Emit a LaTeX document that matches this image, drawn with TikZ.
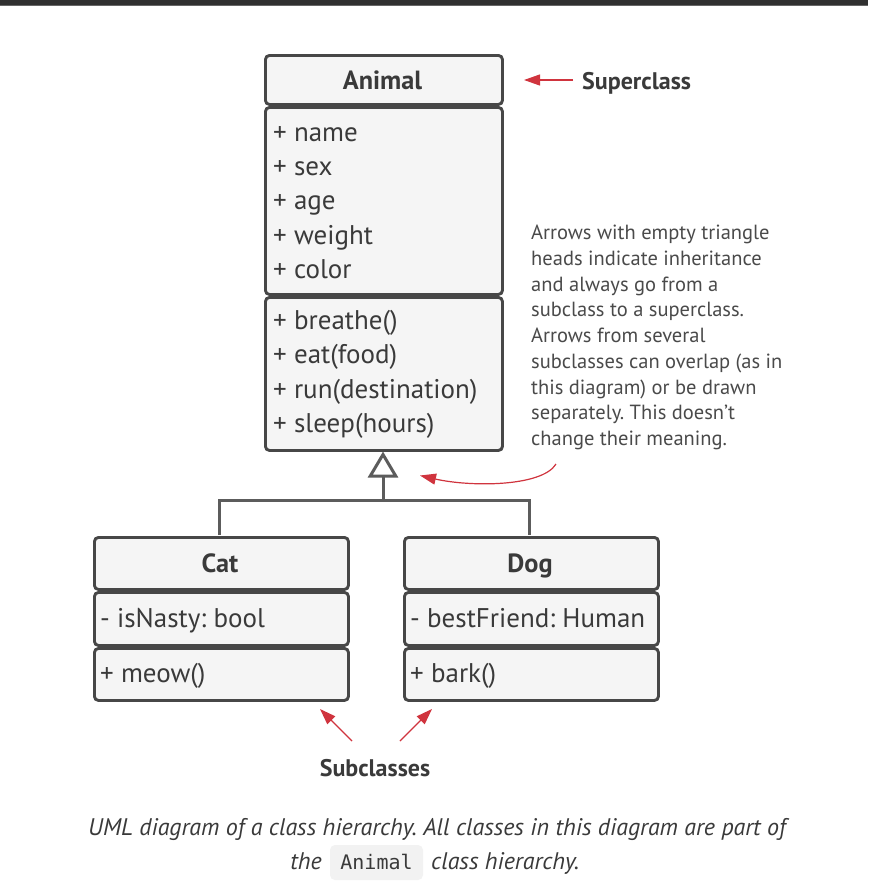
\documentclass[tikz,border=0pt]{standalone}
\usepackage{fontspec}
\setmainfont{PT Sans}
\setmonofont{DejaVu Sans Mono}
\usetikzlibrary{arrows.meta}
\frenchspacing
\definecolor{boxline}{HTML}{474747}
\definecolor{boxfill}{HTML}{F5F5F5}
\definecolor{conn}{HTML}{5C5C5C}
\definecolor{redarrow}{HTML}{D0343E}
\definecolor{txt}{HTML}{3A3A3A}
\definecolor{notetxt}{HTML}{4A4A4A}
\definecolor{topbar}{HTML}{303030}
\tikzset{
  compart/.style={draw=boxline, fill=boxfill, line width=2.9pt, rounded corners=4pt, rectangle, inner sep=0pt, anchor=north west},
  title/.style={font=\fontsize{26.3}{30}\selectfont\bfseries, text=txt, anchor=base},
  member/.style={font=\fontsize{27}{30}\selectfont, text=txt, anchor=base west, inner sep=0pt},
  note/.style={font=\fontsize{20.5}{25.75}\selectfont, text=notetxt, anchor=base west, inner sep=0pt, align=left},
  callout/.style={font=\fontsize{24}{28}\selectfont\bfseries, text=txt, inner sep=0pt},
  redarr/.style={draw=redarrow, line width=1.2pt, -{Triangle[length=16pt,width=11pt]}},
  inherit/.style={draw=conn, line width=3pt},
  caption/.style={font=\fontsize{24}{35}\selectfont\itshape, text=txt, inner sep=0pt, anchor=base},
}
\begin{document}
\begin{tikzpicture}[x=1pt,y=-1pt]
\useasboundingbox (0,0) rectangle (868,889);
\fill[white] (0,0) rectangle (868,889);
\fill[topbar] (0,0) rectangle (868,5);
\fill[black!60] (0,5) rectangle (868,6);

% Animal
\node[compart, minimum width=237pt, minimum height=49pt] (aH) at (264,54) {};
\node[compart, minimum width=237pt, minimum height=187pt] (aA) at (264,106) {};
\node[compart, minimum width=237pt, minimum height=153pt] (aM) at (264,296) {};
\node[title] (aT) at (382.5,89) {Animal};
\node[member] (a1) at (273,141) {+ name};
\node[member] (a2) at (273,175) {+ sex};
\node[member] (a3) at (273,209.5) {+ age};
\node[member] (a4) at (273,244) {+ weight};
\node[member] (a5) at (273,278) {+ color};
\node[member] (a6) at (273,329) {+ breathe()};
\node[member] (a7) at (273,363.5) {+ eat(food)};
\node[member] (a8) at (273,398) {+ run(destination)};
\node[member] (a9) at (273,432.5) {+ sleep(hours)};

% Cat
\node[compart, minimum width=254pt, minimum height=52pt] (cH) at (93,536) {};
\node[compart, minimum width=254pt, minimum height=53pt] (cA) at (93,591) {};
\node[compart, minimum width=254pt, minimum height=52pt] (cM) at (93,647) {};
\node[title] (cT) at (220,572) {Cat};
\node[member] (c1) at (100,627) {- isNasty: bool};
\node[member] (c2) at (100,682) {+ meow()};

% Dog
\node[compart, minimum width=254pt, minimum height=52pt] (dH) at (403,536) {};
\node[compart, minimum width=254pt, minimum height=53pt] (dA) at (403,591) {};
\node[compart, minimum width=254pt, minimum height=52pt] (dM) at (403,647) {};
\node[title] (dT) at (530,572) {Dog};
\node[member] (d1) at (410,627) {- bestFriend: Human};
\node[member] (d2) at (410,682) {+ bark()};

% inheritance connectors
\coordinate (j) at (383,500);
\coordinate (catTop) at (219,535);
\coordinate (dogTop) at (529,535);
\draw[inherit] (catTop) |- (j) -| (dogTop);
\draw[inherit, -{Triangle[open,length=26pt,width=30pt,line width=3pt]}] (j) -- (383,451.5);

% Superclass callout
\node[callout, anchor=base west] (sup) at (582,89) {Superclass};
\coordinate (supTip) at (524,80);
\draw[redarr] (573,80) -- (supTip);

% note
\node[note] (nt) at (531,445.5) {Arrows with empty triangle\\heads indicate inheritance\\and always go from a\\subclass to a superclass.\\Arrows from several\\subclasses can overlap (as in\\this diagram) or be drawn\\separately. This doesn’t\\change their meaning.};
\coordinate (nStart) at (556,464);
\coordinate (nTip) at (420,475.5);
\draw[redarr] (nStart) .. controls (542,487) and (470,487) .. (nTip);

% Subclasses callout
\node[callout, anchor=base] (sub) at (375,776) {Subclasses};
\coordinate (s1) at (352,741);
\coordinate (s2) at (400,741);
\draw[redarr] (s1) -- (320,709);
\draw[redarr] (s2) -- (432,709);

% caption
\node[caption] (cap1) at (437,835) {UML diagram of a class hierarchy. All classes in this diagram are part of};
\node[fill=black!5, rounded corners=5pt, minimum width=93pt, minimum height=35pt, inner sep=0pt] (codebox) at (376.5,862.5) {};
\node[font=\fontsize{20}{24}\selectfont\ttfamily, text=txt, inner sep=0pt, anchor=base] (code) at (376.5,869) {Animal};
\node[caption, anchor=base east] (cap2a) at (322,869) {the};
\node[caption, anchor=base west] (cap2b) at (431,869) {class hierarchy.};
\end{tikzpicture}
\end{document}
